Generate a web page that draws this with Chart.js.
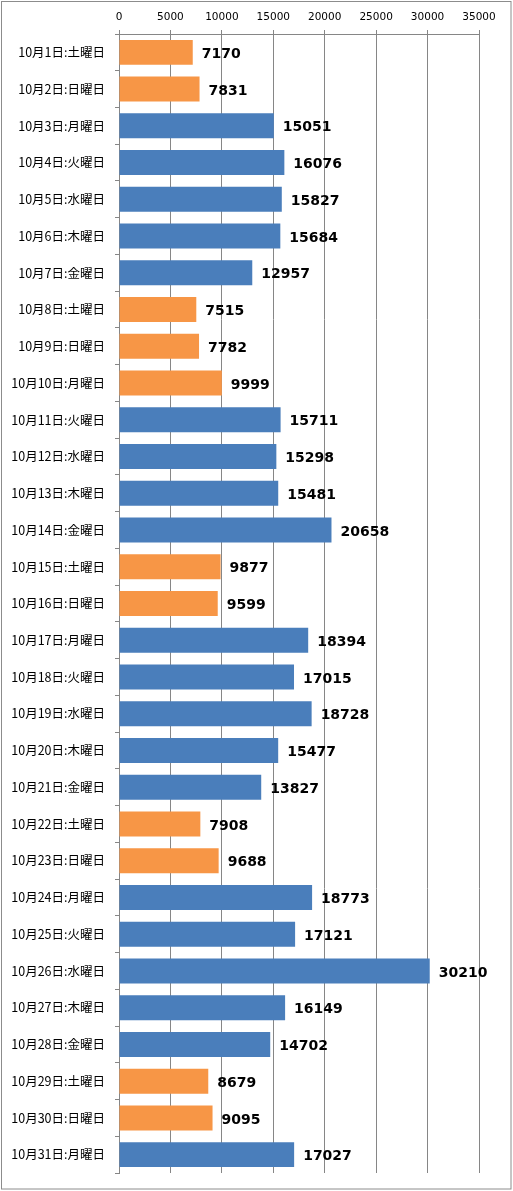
<!DOCTYPE html>
<html>
<head>
<meta charset="utf-8">
<script src="https://cdn.jsdelivr.net/npm/chart.js@4.4.1/dist/chart.umd.min.js"></script>
<style>
html,body{margin:0;padding:0;background:#fff;}
#wrap{width:513px;height:1191px;position:relative;}
</style>
</head>
<body>
<div id="wrap"><canvas id="c"></canvas></div>
<script>
const categories = [
  "10月1日:土曜日","10月2日:日曜日","10月3日:月曜日","10月4日:火曜日","10月5日:水曜日","10月6日:木曜日","10月7日:金曜日",
  "10月8日:土曜日","10月9日:日曜日","10月10日:月曜日","10月11日:火曜日","10月12日:水曜日","10月13日:木曜日","10月14日:金曜日",
  "10月15日:土曜日","10月16日:日曜日","10月17日:月曜日","10月18日:火曜日","10月19日:水曜日","10月20日:木曜日","10月21日:金曜日",
  "10月22日:土曜日","10月23日:日曜日","10月24日:月曜日","10月25日:火曜日","10月26日:水曜日","10月27日:木曜日","10月28日:金曜日",
  "10月29日:土曜日","10月30日:日曜日","10月31日:月曜日"
];
const values = [
  7170, 7831, 15051, 16076, 15827, 15684, 12957,
  7515, 7782, 9999, 15711, 15298, 15481, 20658,
  9877, 9599, 18394, 17015, 18728, 15477, 13827,
  7908, 9688, 18773, 17121, 30210, 16149, 14702,
  8679, 9095, 17027
];
// days that are weekends / holidays (1-based day of month)
const holidays = [1, 2, 8, 9, 10, 15, 16, 22, 23, 29, 30];
const xTicks = [0, 5000, 10000, 15000, 20000, 25000, 30000, 35000];

const ORANGE = '#F79646';
const BLUE = '#4A7EBB';
const GRID = '#868686';

const barColors = categories.map((c, i) => holidays.includes(i + 1) ? ORANGE : BLUE);

const framePlugin = {
  id: 'frame',
  beforeDraw(chart) {
    const ctx = chart.ctx;
    ctx.save();
    ctx.fillStyle = '#fff';
    ctx.fillRect(0, 0, chart.width, chart.height);
    ctx.strokeStyle = '#8c8c8c';
    ctx.lineWidth = 1;
    ctx.strokeRect(1.5, 1.5, chart.width - 3.5, chart.height - 3.5);
    ctx.restore();
  }
};

const labelPlugin = {
  id: 'barLabels',
  afterDatasetsDraw(chart) {
    const ctx = chart.ctx;
    const meta = chart.getDatasetMeta(0);
    ctx.save();
    ctx.font = 'bold 14px "DejaVu Sans", Verdana, sans-serif';
    ctx.fillStyle = '#000';
    ctx.textAlign = 'left';
    ctx.textBaseline = 'middle';
    meta.data.forEach((bar, i) => {
      ctx.fillText(String(values[i]), bar.x + 9, bar.y + 2);
    });
    ctx.restore();
  }
};

new Chart(document.getElementById('c'), {
  type: 'bar',
  data: {
    labels: categories,
    datasets: [{
      data: values,
      backgroundColor: barColors,
      borderWidth: 0,
      categoryPercentage: 0.68,
      barPercentage: 1.0
    }]
  },
  plugins: [framePlugin, labelPlugin],
  options: {
    indexAxis: 'y',
    responsive: true,
    maintainAspectRatio: false,
    animation: false,
    devicePixelRatio: 1,
    layout: { padding: { left: 0, right: 34, top: 0, bottom: 18 } },
    plugins: { legend: { display: false }, tooltip: { enabled: false } },
    scales: {
      x: {
        position: 'top',
        min: 0,
        max: 35000,
        afterBuildTicks(scale) { scale.ticks = xTicks.map(v => ({ value: v })); },
        afterFit(scale) { scale.height = 34; },
        grid: { color: GRID, lineWidth: 1, tickLength: 4, drawTicks: true },
        border: { display: true, color: GRID },
        ticks: {
          color: '#000',
          font: { family: '"DejaVu Sans", Tahoma, sans-serif', size: 10.5 },
          padding: 6,
          maxRotation: 0,
          callback: (v) => String(v)
        }
      },
      y: {
        afterFit(scale) { scale.width = 119; },
        grid: { display: true, drawOnChartArea: false, drawTicks: true, tickLength: 4, color: GRID, offset: true },
        border: { display: true, color: GRID },
        ticks: {
          color: '#000',
          font: { family: '"Noto Sans CJK JP", sans-serif', size: 12.5 },
          padding: 10,
          autoSkip: false
        }
      }
    }
  }
});
</script>
</body>
</html>
